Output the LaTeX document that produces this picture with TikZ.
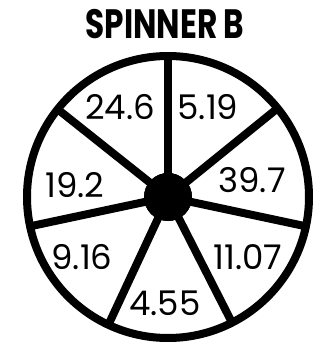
\documentclass[tikz,border=0pt]{standalone}
\usepackage{fontspec}
\setmainfont{Poppins}
\usepackage{tikz}

\begin{document}
\begin{tikzpicture}[x=1pt, y=1pt,
    rim/.style={draw, line width=8pt},
    spoke/.style={line width=8pt},
    hub/.style={circle, fill=black, minimum size=48pt, inner sep=0pt},
    num/.style={font=\fontsize{34}{34}\selectfont, inner sep=0pt},
    title/.style={font=\fontsize{41}{41}\selectfont\bfseries, inner sep=0pt}
]
  \useasboundingbox (-168,-154) rectangle (156,197);
  \draw[rim] (0,0) circle (141);
  % rim ends of the spokes
  \foreach \ang/\nm in {90/r1, 39/r2, -12/r3, -63/r4, -115/r5, 192/r6, 141.5/r7}
    \coordinate (\nm) at (\ang:141);
  \node[hub] (hb) at (0,0) {};
  \foreach \nm in {r1, r2, r3, r4, r5, r6, r7}
    \draw[spoke] (hb.center) -- (\nm);
  \node[hub] at (hb) {};
  % numbers
  \node[num] (n1) at (-48, 90) {24.6};
  \node[num] (n2) at (40, 90) {5.19};
  \node[num] (n3) at (84, 17) {39.7};
  \node[num] (n4) at (-93, 12) {19.2};
  \node[num] (n5) at (-86, -60) {9.16};
  \node[num] (n6) at (80, -60) {11.07};
  \node[num] (n7) at (-3, -106) {4.55};
  \node[title] (ttl) at (-3, 173) {\scalebox{0.76}[1]{SPINNER B}};
\end{tikzpicture}
\end{document}
